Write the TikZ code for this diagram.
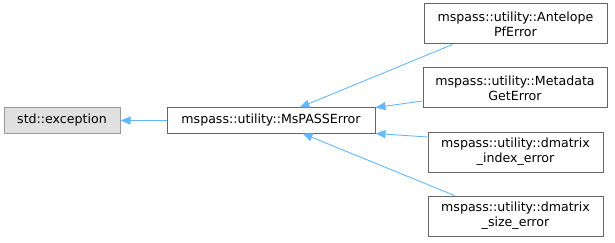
\documentclass[tikz,border=0pt]{standalone}
\usepackage{fontspec}
\setmainfont{DejaVu Sans}
\usetikzlibrary{arrows.meta,calc}
\definecolor{edgeblue}{HTML}{63B8FF}
\definecolor{curfill}{HTML}{E0E0E0}
\definecolor{curdraw}{HTML}{999999}
\definecolor{boxdraw}{HTML}{666666}
\begin{document}
\begin{tikzpicture}[x=1pt,y=-1pt,
  cls/.style={draw=boxdraw,fill=white,line width=1pt,inner sep=0pt,align=center,
    font=\fontsize{12.6}{15}\selectfont,text=black,minimum height=#1},
  cls/.default=40pt,
  cur/.style={cls=25pt,draw=curdraw,fill=curfill},
  inh/.style={draw=edgeblue,line width=0.9pt,-{Triangle[length=10pt,width=8pt]}}]
\useasboundingbox (0,0) rectangle (615,243);
\node[cur,minimum width=116pt] (exc) at (62,120.5) {std::exception};
\node[cls=25pt,minimum width=208pt] (ms) at (271,120.5) {mspass::utility::MsPASSError};
\node[cls,minimum width=183pt] (ant) at (515.5,24) {mspass::utility::Antelope\\PfError};
\node[cls,minimum width=184pt] (meta) at (515,88) {mspass::utility::Metadata\\GetError};
\node[cls,minimum width=175pt] (idx) at (515.5,152) {mspass::utility::dmatrix\\\_index\_error};
\node[cls,minimum width=175pt] (size) at (515.5,216) {mspass::utility::dmatrix\\\_size\_error};
\draw[inh] (ms.west) -- (exc.east);
\draw[inh] ($(ant.south west)+(29,0)$) -- ($(ms.north west)+(133,0)$);
\draw[inh] ($(meta.west)+(0,13)$) -- (ms.north east);
\draw[inh] ($(idx.west)+(0,-15)$) -- (ms.south east);
\draw[inh] ($(size.north west)+(27,0)$) -- ($(ms.south west)+(136,0)$);
\end{tikzpicture}
\end{document}
